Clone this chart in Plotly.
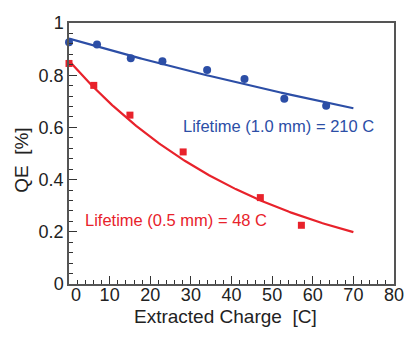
import numpy as np
import plotly.graph_objects as go

# measured QE vs extracted charge
charge_10mm = [0.0, 6.9, 15.2, 23.0, 34.0, 43.2, 53.0, 63.3]
qe_10mm = [0.926, 0.918, 0.865, 0.853, 0.820, 0.785, 0.710, 0.683]

charge_05mm = [0.0, 6.1, 15.0, 28.1, 47.1, 57.2]
qe_05mm = [0.845, 0.761, 0.647, 0.506, 0.331, 0.225]

# exponential fits: QE = amp * exp(-Q / lifetime)
fit_amp_10mm, lifetime_10mm = 0.940, 210.0
fit_amp_05mm, lifetime_05mm = 0.855, 48.0
fit_range = (0.0, 70.0)

x_tick_vals = [0, 10, 20, 30, 40, 50, 60, 70, 80]
x_tick_text = ["", "10", "20", "30", "40", "50", "60", "70", "80"]
y_tick_vals = [0, 0.2, 0.4, 0.6, 0.8, 1]
y_tick_text = ["0", "0.2", "0.4", "0.6", "0.8", "1"]

BLUE = "#2c4ea6"
RED = "#e8222b"
TXT = "#222"
FONT = "Liberation Sans, Arial, sans-serif"

q_fit = np.linspace(fit_range[0], fit_range[1], 200)

fig = go.Figure()

fig.add_trace(go.Scatter(
    x=q_fit, y=fit_amp_10mm * np.exp(-q_fit / lifetime_10mm),
    mode="lines", line=dict(color=BLUE, width=2.2), cliponaxis=False
))
fig.add_trace(go.Scatter(
    x=q_fit, y=fit_amp_05mm * np.exp(-q_fit / lifetime_05mm),
    mode="lines", line=dict(color=RED, width=2.2), cliponaxis=False
))
fig.add_trace(go.Scatter(
    x=charge_10mm, y=qe_10mm, mode="markers",
    marker=dict(symbol="circle", size=8, color=BLUE), cliponaxis=False
))
fig.add_trace(go.Scatter(
    x=charge_05mm, y=qe_05mm, mode="markers",
    marker=dict(symbol="square", size=7, color=RED), cliponaxis=False
))

# fit labels
fig.add_annotation(x=27.6, y=0.605, xref="x", yref="y", xanchor="left",
                   text="Lifetime (1.0 mm) = 210 C", showarrow=False,
                   font=dict(family=FONT, size=16.5, color=BLUE))
fig.add_annotation(x=3.5, y=0.245, xref="x", yref="y", xanchor="left",
                   text="Lifetime (0.5 mm) = 48 C", showarrow=False,
                   font=dict(family=FONT, size=16.5, color=RED))

# the "0" label on the charge axis sits a little right of the axis origin
fig.add_annotation(x=0, y=0, xref="x", yref="y", xshift=7, yshift=-11,
                   xanchor="center", yanchor="middle",
                   text="0", showarrow=False,
                   font=dict(family=FONT, size=18, color=TXT))

# axis titles (offsets in pixels from the plot area)
fig.add_annotation(x=0.4815, y=0, xref="paper", yref="paper", yshift=-32,
                   xanchor="center", yanchor="middle",
                   text="Extracted Charge  [C]", showarrow=False,
                   font=dict(family=FONT, size=19, color=TXT))
fig.add_annotation(x=0, y=0.472, xref="paper", yref="paper", xshift=-47,
                   xanchor="center", yanchor="middle",
                   text="QE  [%]", textangle=-90, showarrow=False,
                   font=dict(family=FONT, size=19, color=TXT))

axis_common = dict(
    showgrid=False, zeroline=False, showline=True, linecolor="#555",
    linewidth=1.5, mirror=True, ticks="inside", tickcolor="#333",
    tickwidth=1, ticklen=8, automargin=False,
    tickfont=dict(family=FONT, size=18, color=TXT),
)

fig.update_xaxes(
    range=[0, 80], tickvals=x_tick_vals, ticktext=x_tick_text,
    ticklabelstandoff=-6,
    minor=dict(dtick=2, ticks="inside", ticklen=4, tickcolor="#333", tickwidth=1),
    **axis_common
)
fig.update_yaxes(
    range=[0, 1], tickvals=y_tick_vals, ticktext=y_tick_text,
    minor=dict(dtick=0.04, ticks="inside", ticklen=4, tickcolor="#333", tickwidth=1),
    **axis_common
)

# the page body adds an 8 px offset, so the figure is 8 px smaller each way
fig.update_layout(
    width=407, height=333,
    margin=dict(l=61, r=21, t=15, b=57),
    plot_bgcolor="white", paper_bgcolor="white",
    showlegend=False,
)

fig.write_html("out.html")
